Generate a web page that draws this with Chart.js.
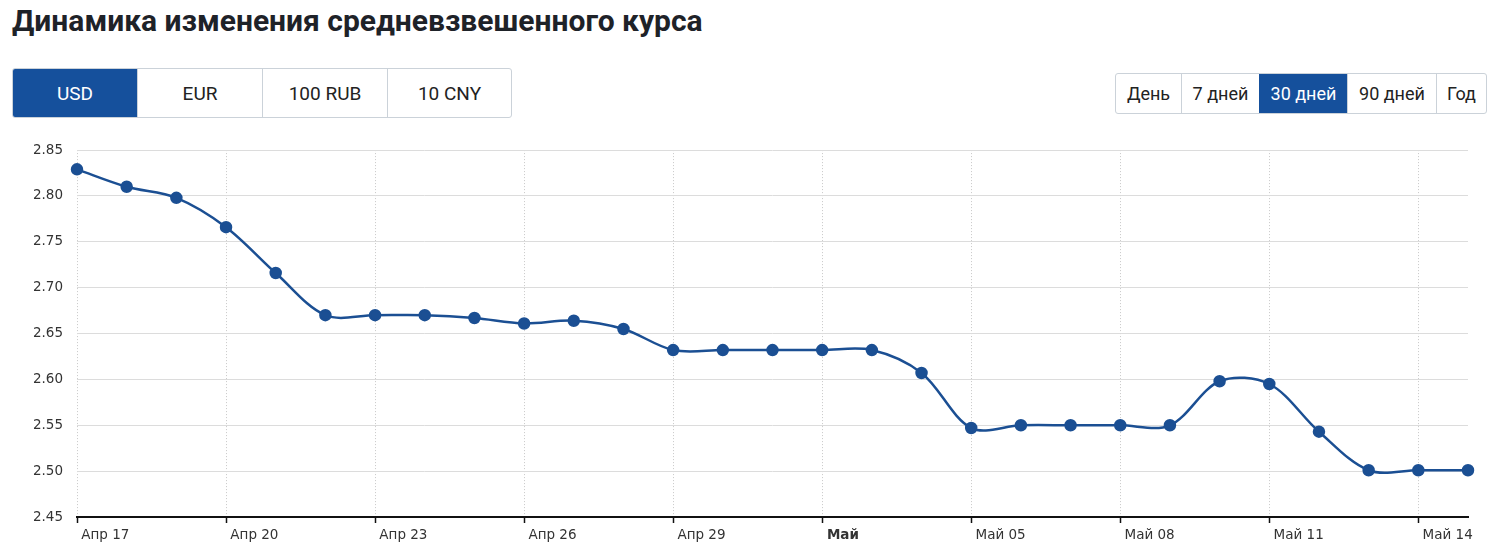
<!DOCTYPE html>
<html>
<head>
<meta charset="utf-8">
<script src="https://cdn.jsdelivr.net/npm/chart.js@4/dist/chart.umd.min.js"></script>
<style>
    body { margin: 0; background: #fff; font-family: Roboto, sans-serif; }
    h2 { position: absolute; left: 12px; top: 3px; margin: 0; font-size: 30px; font-weight: 700; color: #1e2228; }
    .group { position: absolute; display: flex; border: 1px solid #cbd2d9; border-radius: 3px; overflow: hidden; }
    .group div { display: flex; align-items: center; justify-content: center; color: #222; border-left: 1px solid #cbd2d9; box-sizing: border-box; }
    .group div:first-child { border-left: none; }
    .group div.active { background: #15509c; color: #fff; border-left-color: #15509c; }
    #cur { left: 12px; top: 68px; height: 48px; font-size: 19px; }
    #per { left: 1115px; top: 73px; height: 39px; font-size: 18px; }
    #box { position: absolute; left: 0; top: 128px; width: 1480px; height: 422px; }
</style>
</head>
<body>
<h2>Динамика изменения средневзвешенного курса</h2>
<div class="group" id="cur">
    <div class="active" style="width:124px">USD</div><div style="width:125px">EUR</div><div style="width:125px">100 RUB</div><div style="width:124px">10 CNY</div>
</div>
<div class="group" id="per">
    <div style="width:65px">День</div><div style="width:78px">7 дней</div><div class="active" style="width:88px">30 дней</div><div style="width:89px">90 дней</div><div style="width:50px">Год</div>
</div>
<div id="box"><canvas id="rateChart"></canvas></div>
<script>
// дни: 17 апреля - 15 мая
const days = ['17.04', '18.04', '19.04', '20.04', '21.04', '22.04', '23.04', '24.04', '25.04', '26.04',
    '27.04', '28.04', '29.04', '30.04', '01.05', '02.05', '03.05', '04.05', '05.05', '06.05',
    '07.05', '08.05', '09.05', '10.05', '11.05', '12.05', '13.05', '14.05', '15.05'];
const usdRate = [2.829, 2.810, 2.798, 2.766, 2.716, 2.670, 2.670, 2.670, 2.667, 2.661,
    2.664, 2.655, 2.632, 2.632, 2.632, 2.632, 2.632, 2.607, 2.547, 2.550,
    2.550, 2.550, 2.550, 2.598, 2.595, 2.543, 2.501, 2.501, 2.501];
// подписи оси X, каждые 3 дня
const xTickLabels = ['Апр 17', 'Апр 20', 'Апр 23', 'Апр 26', 'Апр 29', 'Май', 'Май 05', 'Май 08', 'Май 11', 'Май 14'];
const yTicks = [2.45, 2.50, 2.55, 2.60, 2.65, 2.70, 2.75, 2.80, 2.85];

const labelFont = 'DejaVu Sans';
const shown = i => i % 3 === 0 && i / 3 < xTickLabels.length;

const ctx = document.getElementById('rateChart').getContext('2d');
new Chart(ctx, {
    type: 'line',
    data: {
        labels: days,
        datasets: [{
            data: usdRate,
            borderColor: '#1b4f93',
            backgroundColor: '#1b4f93',
            borderWidth: 2.5,
            tension: 0.33,
            pointRadius: 5,
            pointHoverRadius: 5,
            clip: false
        }]
    },
    options: {
        responsive: true,
        maintainAspectRatio: false,
        animation: false,
        layout: { padding: { top: 0, right: 12, left: 0, bottom: 0 } },
        plugins: { legend: { display: false }, tooltip: { enabled: false } },
        scales: {
            x: {
                afterFit: s => { s.height = 33; },
                border: { display: true, color: '#111', width: 2, dash: [1, 2] },
                grid: {
                    color: c => shown(c.index) ? '#c8c8c8' : 'transparent',
                    tickColor: c => shown(c.index) ? '#111' : 'transparent',
                    tickLength: 6,
                    tickBorderDash: [],
                    lineWidth: 1,
                    tickWidth: 1.5
                },
                ticks: {
                    autoSkip: false,
                    maxRotation: 0,
                    align: 'start',
                    padding: 4,
                    color: '#333',
                    font: c => ({ family: labelFont, size: 13.5, weight: (c.tick && c.tick.label.trim() === 'Май') ? 'bold' : 'normal' }),
                    callback: (v, i) => shown(i) ? ' ' + xTickLabels[i / 3] : ''
                }
            },
            y: {
                min: 2.45,
                max: 2.85,
                afterFit: s => { s.width = 77; },
                afterBuildTicks: s => { s.ticks = yTicks.map(v => ({ value: v })); },
                border: { display: false },
                grid: { color: '#dcdcdc', lineWidth: 1, drawTicks: false },
                ticks: {
                    padding: 14,
                    color: '#333',
                    font: { family: labelFont, size: 13.5 },
                    callback: v => v.toFixed(2)
                }
            }
        }
    }
});
</script>
</body>
</html>
